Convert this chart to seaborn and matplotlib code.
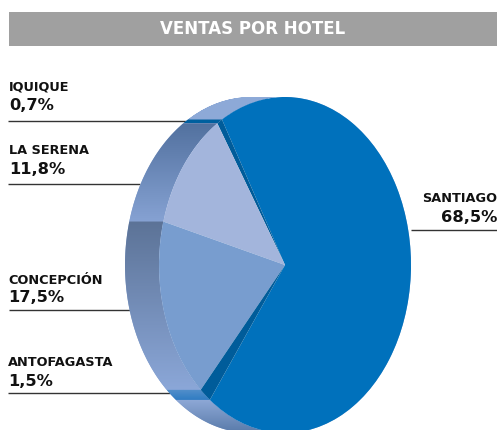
import numpy as np
import matplotlib
matplotlib.use("Agg")
import matplotlib.pyplot as plt
from matplotlib.patches import Polygon, Rectangle
import seaborn as sns

# ---- data
hotels = ["Santiago", "Iquique", "La Serena", "Concepción", "Antofagasta"]
shares = [68.5, 0.7, 11.8, 17.5, 1.5]
title = "VENTAS POR HOTEL"

# ---- style
face_colors = ["#0071BC", "#005C9A", "#A3B5DC", "#789DCF", "#005C9A"]
wall_colors = {
    "Santiago": ("#8CA8D6", "#8CA8D6"),
    "Iquique": ("#00609F", "#00609F"),
    "La Serena": ("#52719F", "#86A2D3"),
    "Concepción": ("#5C7397", "#8BA7D8"),
    "Antofagasta": ("#5590CB", "#2F7CC2"),
}
W, H = 497, 430
CX, CY, RX, RY, DEPTH = 285, 265, 126, 168, 34
label_layout = {  # name: (text x, name y, value y, align, line x0, line x1, line y)
    "Iquique": (9, 87, 106, "left", 8, 188, 121),
    "La Serena": (9, 151, 170, "left", 8, 140, 184),
    "Concepción": (8, 280, 298, "left", 9, 130, 310),
    "Antofagasta": (8, 362, 381, "left", 8, 170, 393),
    "Santiago": (497, 198, 218, "right", 411, 497, 230),
}

sns.set_theme(style="white")
plt.rcParams["font.family"] = ["DejaVu Sans"]

fig = plt.figure(figsize=(W / 100, H / 100), dpi=100, facecolor="white")
ax = fig.add_axes([0, 0, 1, 1])


def dx(px):
    return (px - CX) / RX


def dy(px):
    return (CY - px) / RY


# top face of the pie, in data space where the ellipse is a unit circle
wedges, _ = ax.pie(shares, colors=face_colors, startangle=233.4, counterclock=True,
                   radius=1, center=(0, 0), wedgeprops=dict(linewidth=0, zorder=5))
ax.set_aspect("auto")

offset = DEPTH / RX


def add_wall(a1, a2, top, bottom):
    t = np.radians(np.linspace(a1, a2, 120))
    x, y = np.cos(t), np.sin(t)
    pts = np.vstack([np.column_stack([x, y]),
                     np.column_stack([x - offset, y])[::-1]])
    poly = Polygon(pts, closed=True, transform=ax.transData, facecolor="none", edgecolor="none")
    ax.add_patch(poly)
    cmap = sns.blend_palette([top, bottom], 64, as_cmap=True)
    grad = np.linspace(0, 1, 128).reshape(-1, 1)
    im = ax.imshow(grad, cmap=cmap, aspect="auto", zorder=2, interpolation="bilinear",
                   extent=[pts[:, 0].min(), pts[:, 0].max(), pts[:, 1].min(), pts[:, 1].max()],
                   origin="upper")
    im.set_clip_path(poly)


for name, w in zip(hotels, wedges):
    top, bottom = wall_colors[name]
    if name == "Santiago":
        # only the parts of its rim facing the viewer's left are visible
        add_wall(90, w.theta2, "#8EAAD8", "#86A3D3")
        add_wall(w.theta1, 270, "#8FA9D7", "#587AA9")
    else:
        add_wall(w.theta1, w.theta2, top, bottom)

ax.set_xlim(dx(0), dx(W))
ax.set_ylim(dy(H), dy(0))
ax.axis("off")

# header band
ax.add_patch(Rectangle((dx(9), dy(46)), dx(497) - dx(9), dy(12) - dy(46),
                       facecolor="#A0A0A0", edgecolor="none", zorder=1))
ax.text(dx(253), dy(29), title, color="white", fontsize=12, fontweight="bold",
        ha="center", va="center", zorder=6)

# labels and leader lines
for name, share in zip(hotels, shares):
    x, y_name, y_val, align, x0, x1, y_line = label_layout[name]
    ax.text(dx(x), dy(y_name), name.upper(), fontsize=9.3, fontweight="bold", color="#111111",
            ha=align, va="center", zorder=6)
    ax.text(dx(x), dy(y_val), f"{share:.1f}".replace(".", ",") + "%", fontsize=11.7,
            fontweight="bold", color="#111111", ha=align, va="center", zorder=6)
    ax.plot([dx(x0), dx(x1)], [dy(y_line), dy(y_line)], color="#333333", lw=1.0,
            solid_capstyle="butt", zorder=1)

fig.savefig("out.png", dpi=100, facecolor="white")
